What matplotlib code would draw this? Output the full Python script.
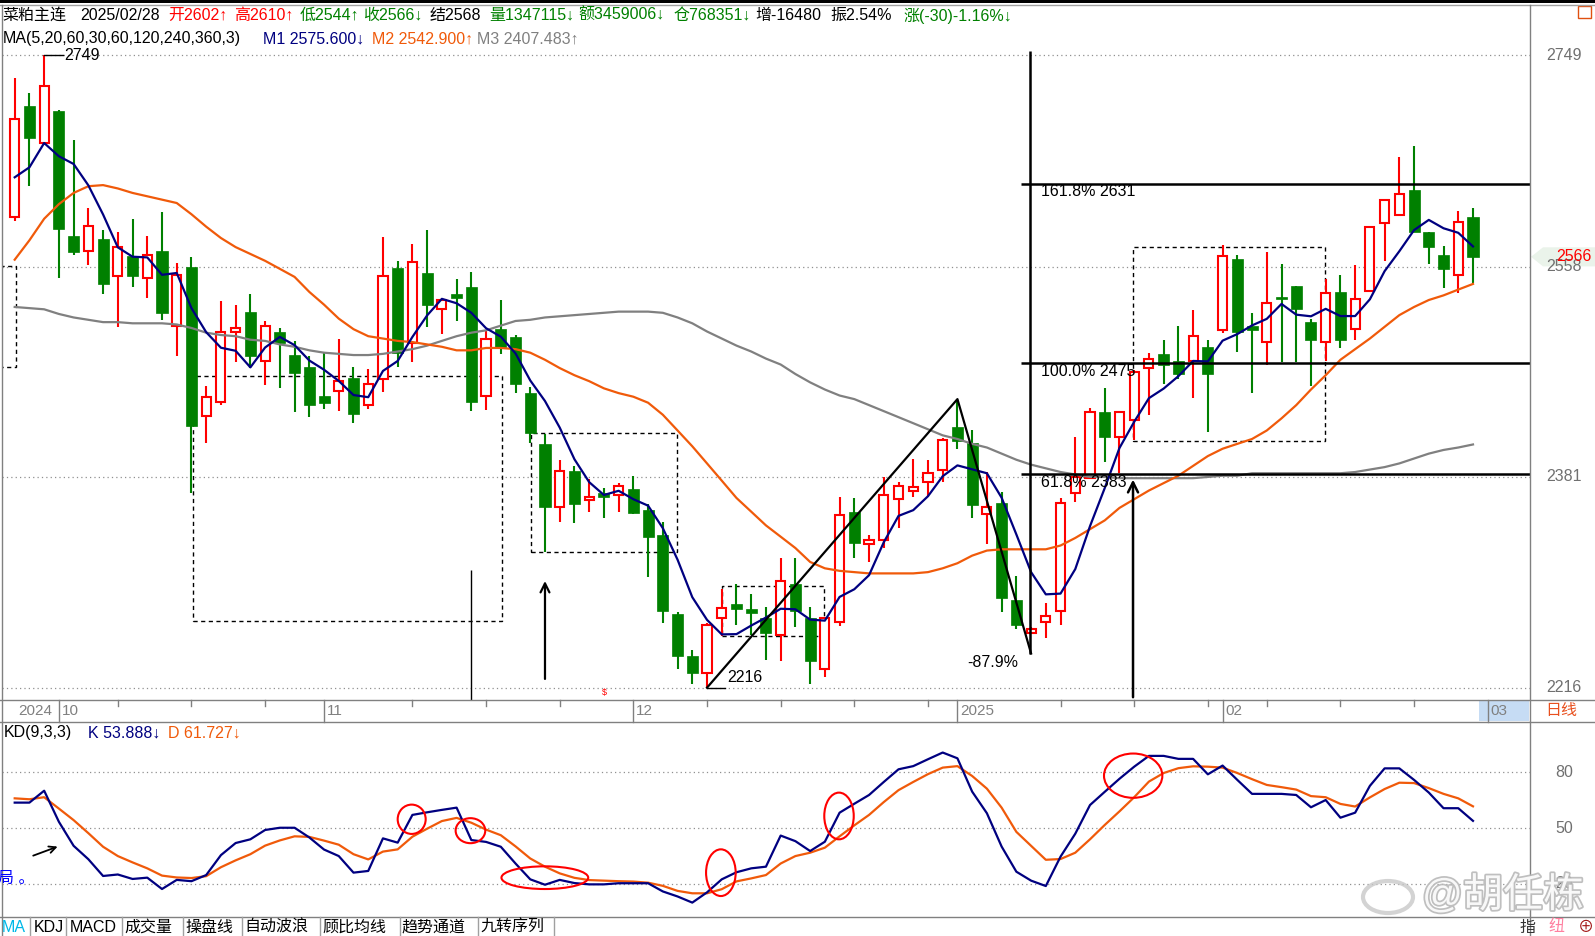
import matplotlib
matplotlib.use("Agg")
import matplotlib.pyplot as plt
import matplotlib.patheffects as pe
import numpy as np
from matplotlib.patches import Rectangle, Ellipse, Polygon
from matplotlib.lines import Line2D

plt.rcParams['font.family'] = ['Liberation Sans', 'Noto Sans CJK SC', 'DejaVu Sans']

# ---- daily bars, 2024/09/26 .. 2025/02/28 ----
opens = [2602, 2702, 2668, 2697, 2585, 2572, 2582, 2550, 2567, 2548,
         2572, 2507, 2558, 2431, 2443, 2502, 2519, 2477, 2502, 2482,
         2472, 2448, 2452, 2463, 2440, 2462, 2557, 2492, 2552, 2521,
         2534, 2540, 2448, 2504, 2497, 2450, 2408, 2357, 2386, 2362,
         2368, 2366, 2371, 2354, 2334, 2272, 2240, 2227, 2269, 2280,
         2276, 2269, 2256, 2296, 2269, 2230, 2266, 2353, 2327, 2330,
         2363, 2370, 2377, 2387, 2422, 2409, 2351, 2360, 2283, 2258,
         2266, 2275, 2368, 2380, 2434, 2414, 2428, 2471, 2483, 2477,
         2477, 2489, 2503, 2565, 2507, 2493, 2532, 2541, 2510, 2493,
         2536, 2504, 2537, 2596, 2603, 2626, 2588, 2568, 2551, 2602]
highs = [2728, 2714, 2749, 2698, 2671, 2610, 2590, 2588, 2600, 2585,
         2606, 2561, 2566, 2456, 2528, 2525, 2534, 2511, 2505, 2494,
         2481, 2484, 2496, 2472, 2470, 2584, 2563, 2578, 2590, 2531,
         2547, 2553, 2503, 2529, 2499, 2455, 2416, 2395, 2390, 2379,
         2372, 2376, 2382, 2359, 2345, 2274, 2245, 2265, 2292, 2296,
         2288, 2278, 2316, 2316, 2278, 2270, 2365, 2364, 2334, 2381,
         2377, 2396, 2395, 2413, 2445, 2419, 2385, 2369, 2302, 2262,
         2281, 2364, 2414, 2438, 2454, 2434, 2469, 2484, 2495, 2507,
         2520, 2495, 2577, 2568, 2518, 2571, 2560, 2541, 2513, 2547,
         2551, 2559, 2593, 2617, 2655, 2665, 2588, 2576, 2607, 2610]
lows = [2598, 2629, 2666, 2548, 2568, 2559, 2534, 2506, 2540, 2531,
        2512, 2481, 2368, 2409, 2440, 2476, 2471, 2457, 2454, 2434,
        2430, 2437, 2435, 2425, 2437, 2451, 2472, 2476, 2506, 2500,
        2511, 2435, 2436, 2483, 2450, 2409, 2321, 2345, 2344, 2353,
        2348, 2353, 2351, 2301, 2265, 2230, 2219, 2216, 2255, 2264,
        2256, 2237, 2236, 2262, 2219, 2224, 2263, 2316, 2313, 2324,
        2340, 2365, 2365, 2377, 2404, 2348, 2327, 2274, 2261, 2258,
        2254, 2264, 2361, 2379, 2393, 2384, 2411, 2432, 2458, 2462,
        2446, 2418, 2501, 2485, 2450, 2474, 2476, 2476, 2456, 2477,
        2488, 2495, 2537, 2563, 2603, 2588, 2560, 2539, 2535, 2544]
closes = [2690, 2673, 2720, 2591, 2571, 2594, 2543, 2575, 2550, 2568,
          2518, 2551, 2423, 2447, 2502, 2505, 2481, 2507, 2492, 2467,
          2440, 2442, 2460, 2433, 2458, 2550, 2484, 2562, 2525, 2529,
          2531, 2443, 2496, 2489, 2458, 2417, 2357, 2386, 2359, 2365,
          2365, 2374, 2352, 2333, 2275, 2240, 2227, 2264, 2277, 2276,
          2273, 2258, 2298, 2275, 2236, 2269, 2350, 2328, 2330, 2366,
          2374, 2373, 2384, 2411, 2410, 2358, 2357, 2285, 2264, 2261,
          2271, 2360, 2381, 2434, 2414, 2434, 2468, 2479, 2474, 2466,
          2498, 2466, 2567, 2502, 2503, 2526, 2530, 2521, 2495, 2535,
          2495, 2530, 2593, 2617, 2622, 2588, 2575, 2556, 2597, 2566]

# moving averages as drawn (M1 = MA5, M2 = MA20, M3 = MA60)
ma5 = [2637, 2646, 2668, 2656, 2649.0, 2629.8, 2603.8, 2574.8, 2566.6, 2566.0,
       2550.8, 2552.4, 2522.0, 2501.4, 2488.2, 2485.6, 2471.6, 2488.4, 2497.4, 2490.4,
       2477.4, 2469.6, 2460.2, 2448.4, 2446.6, 2468.6, 2477.0, 2497.4, 2515.8, 2530.0,
       2526.2, 2518.0, 2504.8, 2497.6, 2483.4, 2460.6, 2443.4, 2421.4, 2395.4, 2376.8,
       2366.4, 2369.8, 2363.0, 2357.8, 2339.8, 2314.8, 2285.4, 2267.8, 2256.6, 2256.8,
       2263.4, 2269.6, 2276.4, 2276.0, 2268.0, 2267.2, 2285.6, 2291.6, 2302.6, 2328.6,
       2349.6, 2354.2, 2365.4, 2381.6, 2390.4, 2387.2, 2384.0, 2364.2, 2334.8, 2305.0,
       2287.6, 2288.2, 2307.4, 2341.4, 2372.0, 2404.6, 2426.2, 2445.8, 2453.8, 2464.2,
       2477.0, 2476.6, 2494.2, 2499.8, 2507.2, 2512.8, 2525.6, 2516.4, 2515.0, 2521.4,
       2515.2, 2515.2, 2529.6, 2554.0, 2571.4, 2590.0, 2599.0, 2591.6, 2587.6, 2575.6]
ma20 = [2564, 2581, 2600, 2613, 2623, 2629, 2630, 2627, 2623, 2620,
        2617, 2614, 2604, 2593, 2583, 2575, 2569, 2563, 2556, 2549,
        2536, 2525, 2513, 2504, 2498, 2496, 2494, 2493, 2491, 2489,
        2486, 2486, 2488, 2488, 2487, 2484, 2478, 2471, 2465, 2460,
        2454, 2450, 2447, 2442, 2432, 2419, 2406, 2392, 2378, 2364,
        2353, 2342, 2333, 2324, 2313, 2308, 2306, 2305, 2304, 2304,
        2304, 2304, 2305, 2308, 2312, 2318, 2322, 2323, 2323, 2323,
        2323, 2326, 2332, 2339, 2346, 2356, 2363, 2370, 2376, 2382,
        2390, 2398, 2404, 2408, 2412, 2419, 2429, 2440, 2453, 2465,
        2478, 2487, 2496, 2506, 2516, 2523, 2529, 2533, 2538, 2542.9]
ma60 = [2523, 2522, 2521, 2517, 2514, 2512, 2510, 2510, 2509, 2509,
        2509, 2508, 2505, 2501, 2499, 2498, 2495, 2494, 2491, 2489,
        2486, 2484, 2483, 2482, 2482, 2483, 2485, 2487, 2490, 2494,
        2498, 2501, 2503, 2507, 2511, 2512, 2514, 2515, 2516, 2517,
        2518, 2519, 2519, 2519, 2518, 2514, 2509, 2502, 2496, 2490,
        2485, 2479, 2474, 2466, 2459, 2453, 2448, 2445, 2440, 2435,
        2430, 2425, 2420, 2415, 2412, 2408, 2405, 2400, 2395, 2391,
        2388, 2385, 2383, 2381, 2381, 2380, 2380, 2380, 2380, 2380,
        2380, 2381, 2382, 2382, 2384, 2384, 2384, 2384, 2384, 2384,
        2384, 2385, 2387, 2389, 2392, 2396, 2400, 2403, 2405, 2407.5]

# KD(9,3,3)
kd_k = [63.7, 63.7, 70.1, 53.4, 40.5, 33.3, 24.3, 25.1, 22.7, 23.4,
        17.3, 22.2, 21.5, 24.8, 35.5, 42.0, 44.0, 49.0, 50.2, 50.2,
        45.0, 38.5, 35.0, 26.1, 27.0, 44.5, 42.2, 57.1, 58.5, 59.8,
        61.0, 43.6, 42.6, 40.0, 31.0, 22.5, 19.6, 22.2, 20.5, 19.8,
        19.8, 20.4, 20.4, 20.4, 16.0, 13.3, 10.0, 15.5, 22.5, 26.3,
        28.4, 29.3, 46.0, 43.0, 37.7, 42.7, 58.3, 63.1, 67.8, 74.8,
        81.6, 83.3, 87.0, 90.6, 87.5, 69.6, 58.0, 40.1, 26.6, 21.8,
        18.9, 34.7, 47.0, 62.4, 69.5, 76.5, 83.0, 88.8, 88.8, 87.2,
        87.2, 78.9, 83.6, 75.9, 68.4, 68.4, 68.4, 67.8, 61.2, 65.1,
        55.6, 58.3, 72.7, 82.1, 82.1, 75.9, 69.1, 60.7, 60.7, 53.9]
kd_d = [66.0, 65.5, 66.6, 60.5, 54.3, 47.3, 40.0, 35.0, 31.6, 28.4,
        24.5, 23.5, 23.2, 24.2, 29.0, 32.7, 36.0, 40.6, 43.4, 45.6,
        45.3, 43.3, 41.1, 36.0, 33.2, 37.4, 38.6, 45.4, 49.7, 53.8,
        55.5, 52.9, 49.2, 46.2, 40.2, 33.7, 29.3, 25.7, 23.3, 22.1,
        21.8, 21.5, 21.3, 20.7, 19.0, 16.3, 15.0, 15.0, 17.2, 21.4,
        23.0, 24.8, 31.0, 35.0, 36.8, 39.5, 45.6, 51.5, 57.1, 64.0,
        70.4, 74.8, 79.0, 82.5, 83.3, 78.0, 71.2, 61.0, 48.0, 40.5,
        33.0, 33.4, 36.8, 44.0, 51.7, 59.0, 66.6, 75.0, 79.6, 82.2,
        83.2, 83.0, 82.5, 79.6, 76.3, 73.2, 72.0, 70.7, 67.2, 66.6,
        63.0, 61.6, 66.5, 71.0, 74.4, 74.2, 71.5, 68.4, 66.0, 61.7]

price_grid = [2216, 2381, 2558, 2749]
price_grid_labels = ['2216', '2381', '2558', '2749']
kd_grid = [20, 50, 80]
fib_levels = [2631, 2475, 2383]
fib_labels = ['161.8% 2631', '100.0% 2475', '61.8% 2383']
zigzag_idx = [48, 65, 70]
zigzag_px = [2216, 2445, 2242]
week_ticks = [8, 13, 18, 28, 33, 38, 48, 53, 58, 63, 72, 77, 82, 86, 91, 96]
month_ticks = [4, 22, 43, 65, 83, 101]
month_labels = ['10', '11', '12', '2025', '02', '03']
tabs = ['MA', 'KDJ', 'MACD', '成交量', '操盘线', '自动波浪', '顾比均线', '趋势通道', '九转序列']
tab_x = [2, 34, 70, 124, 185, 244, 322, 401, 480]
tab_sep = [30.5, 66, 122, 183, 242, 320, 400, 478, 554]

RED = '#ff0000'
GREEN = '#008000'
NAVY = '#000080'
ORANGE = '#f05a0a'
GRAY = '#808080'
FS = 11.5

W, H = 1595, 936
fig = plt.figure(figsize=(W / 100, H / 100), dpi=100)


def fx(x):
    return x / W


def fy(y):
    return 1 - y / H


def ftext(x, y, s, **kw):
    kw.setdefault('fontsize', FS)
    kw.setdefault('va', 'center')
    kw.setdefault('ha', 'left')
    return fig.text(fx(x), fy(y), s, **kw)


def fline(x0, y0, x1, y1, **kw):
    fig.add_artist(Line2D([fx(x0), fx(x1)], [fy(y0), fy(y1)],
                          transform=fig.transFigure, **kw))


n = len(closes)
idx = np.arange(1, n + 1)
XL = (0.138, 103.87)

ax = fig.add_axes([fx(2), fy(700), fx(1530) - fx(2), fy(5) - fy(700)])
kd = fig.add_axes([fx(2), fy(917), fx(1530) - fx(2), fy(722) - fy(917)])
for a in (ax, kd):
    a.axis('off')
    a.set_xlim(*XL)
ax.set_yscale('log')
ax.set_ylim(2206.7, 2796.5)
kd.set_ylim(2.27, 107.0)

dot = (0, (1, 2.5))
ax.hlines(price_grid, XL[0], XL[1], colors='#909090', linestyles=dot, lw=0.9, zorder=0)
kd.hlines(kd_grid, XL[0], XL[1], colors='#909090', linestyles=dot, lw=0.9, zorder=0)

# dashed boxes
dash = (0, (3, 2.5))
for x0, x1, y0, y1 in [(-1, 1.07, 2471.9, 2558.5), (13.08, 34.06, 2266.9, 2464.4),
                       (36.03, 45.98, 2320.7, 2416.7), (49.0, 55.96, 2255.0, 2294.4),
                       (76.92, 89.95, 2410.5, 2574.8)]:
    ax.add_patch(Rectangle((x0, y0), x1 - x0, y1 - y0, fill=False, edgecolor='k',
                           lw=1.0, linestyle=dash, zorder=1))

# candles
for i in range(n):
    x = idx[i]
    o, h, l, c = opens[i], highs[i], lows[i], closes[i]
    if c >= o:
        ax.vlines(x, c, h, color=RED, lw=1.5, zorder=2)
        ax.vlines(x, l, o, color=RED, lw=1.5, zorder=2)
        ax.add_patch(Rectangle((x - 0.31, o), 0.62, max(c - o, 0.8), facecolor='white',
                               edgecolor=RED, lw=1.5, zorder=3))
    else:
        ax.vlines(x, l, h, color=GREEN, lw=1.5, zorder=2)
        ax.add_patch(Rectangle((x - 0.375, c), 0.75, o - c, facecolor=GREEN,
                               edgecolor=GREEN, lw=0.5, zorder=3))

ax.plot(idx, ma60, color=GRAY, lw=1.6, zorder=4)
ax.plot(idx, ma20, color=ORANGE, lw=1.6, zorder=4)
ax.plot(idx, ma5, color=NAVY, lw=1.6, zorder=4)

# annotations on price panel
ax.plot([3, 4.3], [2749, 2749], color='k', lw=1, zorder=5)
ax.text(4.35, 2749, '2749', fontsize=FS, va='center', ha='left', zorder=5)
ax.plot([48, 49.2], [2216, 2216], color='k', lw=1, zorder=5)
ax.text(49.35, 2223.6, '2216', fontsize=FS, va='center', ha='left', zorder=5)
ax.plot(zigzag_idx, zigzag_px, color='k', lw=1.6, zorder=5)
ax.text(67.4, 2235, '-87.9%', fontsize=FS, va='center', ha='center', zorder=5)
ax.hlines(fib_levels, 69.3, XL[1], colors='k', lw=1.8, zorder=5)
for lv, lb in zip(fib_levels, fib_labels):
    ax.annotate(lb, xy=(70.67, lv), xytext=(0, -8), textcoords='offset pixels',
                fontsize=FS, va='center', ha='left', zorder=5)
ax.vlines(69.93, 2241.6, 2753, colors='k', lw=1.8, zorder=5)
ax.vlines(31.98, 2206.7, 2306.7, colors='k', lw=1.0, zorder=5)
ax.annotate('', xy=(76.92, 2381.1), xytext=(76.92, 2206.7),
            arrowprops=dict(arrowstyle='->', lw=1.8, color='k', mutation_scale=18), zorder=5)
ax.annotate('', xy=(37.0, 2300.2), xytext=(37.0, 2220.5),
            arrowprops=dict(arrowstyle='->', lw=1.6, color='k', mutation_scale=16), zorder=5)
ax.text(41.04, 2212.5, '$', color=RED, fontsize=6.5, ha='center', va='center', zorder=5)

# KD panel
kd.plot(idx, kd_d, color=ORANGE, lw=1.6, zorder=3)
kd.plot(idx, kd_k, color=NAVY, lw=1.6, zorder=4)
for cx, cy, w, h in [(27.95, 54.76, 1.90, 15.74), (31.94, 48.63, 2.01, 13.43),
                     (36.99, 23.39, 5.89, 12.19), (48.94, 26.07, 2.01, 25.08),
                     (56.96, 56.53, 2.0, 25.08), (76.93, 78.17, 3.96, 23.79)]:
    kd.add_patch(Ellipse((cx, cy), w, h, fill=False, edgecolor=RED, lw=1.5, zorder=5))
kd.annotate('', xy=(4.09, 40.6), xytext=(2.08, 34.7),
            arrowprops=dict(arrowstyle='->', lw=1.3, color='k', mutation_scale=12), zorder=5)

# frame lines
fig.add_artist(Rectangle((0, fy(2.7)), 1, 2.7 / H, transform=fig.transFigure,
                         facecolor='k', edgecolor='none'))
fline(0, 4.5, W, 4.5, color='#a0a0a0', lw=1)
fline(1.7, 4.5, 1.7, 936, color=GRAY, lw=1)
fline(1530, 4.5, 1530, 936, color=GRAY, lw=1)
for yy in (700, 722, 917):
    fline(0, yy, W, yy, color=GRAY, lw=1)
fig.add_artist(Rectangle((fx(1578), fy(18)), fx(13), 12 / H, transform=fig.transFigure,
                         fill=False, edgecolor='#e05010', lw=1))

# header rows
hdr1 = [(2.6, '菜粕主连', 'k'), (80.6, '2025/02/28', 'k'), (168, '开2602↑', RED),
        (234, '高2610↑', RED), (299.5, '低2544↑', GREEN), (363, '收2566↓', GREEN),
        (430, '结2568', 'k'), (489, '量1347115↓', GREEN), (578, '额3459006↓', GREEN),
        (673.5, '仓768351↓', GREEN), (755, '增-16480', 'k'), (830, '振2.54%', 'k'),
        (903, '涨(-30)-1.16%↓', GREEN)]
for x, s, col in hdr1:
    ftext(x, 15.5, s, color=col)
hdr2 = [(2.6, 'MA(5,20,60,30,60,120,240,360,3)', 'k'), (262.8, 'M1 2575.600↓', NAVY),
        (372.4, 'M2 2542.900↑', ORANGE), (477, 'M3 2407.483↑', GRAY)]
for x, s, col in hdr2:
    ftext(x, 39, s, color=col)
ftext(4, 733, 'KD(9,3,3)', color='k')
ftext(87.8, 733, 'K 53.888↓', color=NAVY)
ftext(168, 733, 'D 61.727↓', color=ORANGE)
ftext(-2, 879, '局 。', color='#0000ff')

# right axis labels
pgy = {'2749': 55.3, '2558': 266.1, '2381': 476.9, '2216': 687.7}
for lb in price_grid_labels:
    ftext(1546.7, pgy[lb], lb, color='#707070')
for v, yy in zip(kd_grid, (884, 828.3, 772.3)):
    ftext(1555.6, yy, str(v), color='#707070')
fig.add_artist(Polygon([(fx(1531), fy(256.8)), (fx(1543), fy(247.3)), (fx(1595), fy(247.3)),
                        (fx(1595), fy(266.4)), (fx(1543), fy(266.4))], closed=True,
                       transform=fig.transFigure, facecolor='#eaf3ea', edgecolor='none'))
ftext(1556.7, 256.5, '2566', color=RED)

# date strip
cx = lambda i: 14.7 + 14.73 * (i - 1)
for i in week_ticks:
    fline(cx(i), 700, cx(i), 706, color=GRAY, lw=1)
fig.add_artist(Rectangle((fx(1479), fy(721)), fx(50), 20 / H, transform=fig.transFigure,
                         facecolor='#c6dcf4', edgecolor='none'))
for i, lb in zip(month_ticks, month_labels):
    fline(cx(i), 700, cx(i), 722, color=GRAY, lw=1)
    ftext(cx(i) + 2.5, 711, lb, color=GRAY, fontsize=11)
ftext(17.9, 711, '2024', color=GRAY, fontsize=11)
ftext(1545, 711, '日线', color='#e8501e')

# tab bar
for x, s in zip(tab_x, tabs):
    ftext(x, 927, s, color='#00b8e8' if s == 'MA' else 'k')
for x in tab_sep:
    fline(x, 917, x, 936, color='#a0a0a0', lw=1)
ftext(1519, 927, '指', color='#333333')
ftext(1548, 927, '纽', color='#ff80a0')
ftext(1578, 927, '⊕', color='#a01010')

# watermark
stroke = [pe.withStroke(linewidth=2.5, foreground='#b8b8b8')]
fig.add_artist(Ellipse((fx(1388), fy(897)), fx(50), 32 / H, transform=fig.transFigure,
                       fill=False, edgecolor='#c8c8c8', lw=3, alpha=0.8))
ftext(1422, 895, '@胡任栋', color='white', fontsize=29, alpha=0.9, path_effects=stroke)

fig.savefig('out.png', dpi=100)
